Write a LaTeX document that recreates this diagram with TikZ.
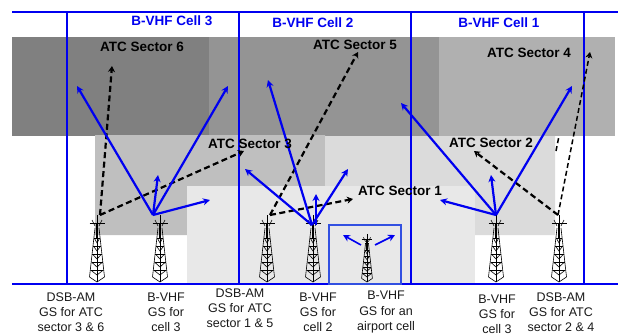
\documentclass[tikz,border=0pt]{standalone}
\usepackage{fontspec}
\setmainfont{Liberation Sans}
\usetikzlibrary{arrows.meta}
\definecolor{cellblue}{RGB}{0,0,240}
\definecolor{boxblue}{RGB}{50,80,225}
\tikzset{
	sectorlabel/.style={font=\fontsize{13.5}{15}\selectfont\bfseries, text=black},
	celllabel/.style={font=\fontsize{13.5}{15}\selectfont\bfseries, text=cellblue},
	gslabel/.style={font=\fontsize{12.5}{15.2}\selectfont, align=center, text=black!90},
	cellline/.style={draw=cellblue, line width=1.6pt},
	beam/.style={draw=cellblue, line width=2.2pt, -{Stealth[length=7pt,width=7pt]}},
	atclink/.style={draw=black, line width=2.2pt, dash pattern=on 6pt off 3.5pt, -{Stealth[length=6pt,width=7pt]}},
}
% (x,y) is the foot of the mast, last argument the size
\def\gstower(#1,#2)(#3){
	\begin{scope}[shift={(#1,#2)}, x=#3pt, y=-#3pt, line width=0.6pt]
		\draw (-7.5,-5) -- (-2,-54) (7.5,-5) -- (2,-54) (-7.5,-5) -- (0,0) -- (7.5,-5);
		\draw (0,-54) -- (0,0);
		\foreach \h/\w in {-12/6.4,-20/5.5,-28/4.6,-36/3.6,-44/2.7}{
			\draw (-\w,\h) -- (0,\h+5) -- (\w,\h);
			\draw (-\w,\h) -- (\w,\h);
		}
		\draw[line width=2pt] (0,-44) -- (0,-58);
		\draw (0,-67) -- (0,-55);
		\draw (-7.5,-59) -- (7.5,-59);
		\draw (-5,-62) -- (-2,-56) (5,-62) -- (2,-56);
	\end{scope}
}

\begin{document}
\begin{tikzpicture}[x=1pt, y=-1pt]
	\useasboundingbox (0, 0) rectangle (618, 335);
	
	%%%%% sectors %%%%%
	\fill[color=black!50] (12, 37) rectangle (209, 136);
	\fill[color=black!42] (209, 37) rectangle (439, 136);
	\fill[color=black!31] (439, 37) rectangle (615, 136);
	\fill[color=black!25] (95, 135) -- (325, 135) -- (325, 186) -- (187, 186) -- (187, 235) -- (95, 235) -- cycle;
	\fill[color=black!14] (325, 136) -- (555, 136) -- (555, 235) -- (475, 235) -- (475, 186) -- (325, 186) -- cycle;
	\fill[color=black!9] (187, 186) rectangle (475, 284);
	
	%%%%% cells %%%%%
	\draw[cellline] (12, 12) -- (620, 12);
	\draw[cellline] (12, 284) -- (618, 284);
	\foreach \cellx in {67, 239, 411}{
		\draw[cellline] (\cellx, 12) -- (\cellx, 284);
	}
	\draw[cellline, line width=1.1pt] (584, 12) -- (584, 284);
	\draw[draw=boxblue, line width=1.4pt] (329, 225) rectangle (401, 284);
	
	%%%%% towers %%%%%
	\gstower(97, 282)(1)
	\gstower(160, 282)(1)
	\gstower(267, 282)(1)
	\gstower(313, 282)(1)
	\gstower(367, 282)(0.72)
	\gstower(496, 282)(1)
	\gstower(559, 282)(1)
	
	\coordinate (gs36) at (100, 215);
	\coordinate (gs15) at (270, 215);
	\coordinate (gs24) at (558, 215);
	\coordinate (cell3) at (153, 215);
	\coordinate (cell2) at (312, 225);
	\coordinate (cell1) at (496, 215);
	
	%%%%% links %%%%%
	\draw[atclink] (gs36) -- (112, 66);
	\draw[atclink] (gs36) -- (244, 151);
	\draw[atclink] (gs15) -- (358, 52);
	\draw[atclink] (gs15) -- (353, 199);
	\draw[atclink] (gs24) -- (474, 151);
	\draw[atclink, line width=1.5pt, dash pattern=on 5pt off 3pt] (gs24) -- (590, 52);
	\draw[draw=black, line width=1.5pt, dash pattern=on 5pt off 3pt] (556, 151) -- (559, 136);
	
	\draw[beam] (cell3) -- (77, 86);
	\draw[beam] (cell3) -- (228, 86);
	\draw[beam] (cell3) -- (158, 175);
	\draw[beam] (cell3) -- (210, 200);
	\draw[beam] (cell2) -- (268, 80);
	\draw[beam] (cell2) -- (245, 169);
	\draw[beam] (316, 225) -- (316, 194);
	\draw[beam] (cell2) -- (348, 169);
	\draw[beam] (cell1) -- (401, 103);
	\draw[beam] (cell1) -- (572, 86);
	\draw[beam] (cell1) -- (491, 175);
	\draw[beam] (cell1) -- (440, 200);
	\draw[beam, line width=1.6pt] (361, 245) -- (343, 235);
	\draw[beam, line width=1.6pt] (375, 245) -- (395, 235);
	
	%%%%% labels %%%%%
	\node[celllabel] (cellc) at (172, 21) {B-VHF Cell 3};
	\node[celllabel] (cellb) at (313, 23) {B-VHF Cell 2};
	\node[celllabel] (cella) at (499, 23) {B-VHF Cell 1};
	
	\node[sectorlabel] (sectorf) at (142, 47) {ATC Sector 6};
	\node[sectorlabel] (sectore) at (355, 45) {ATC Sector 5};
	\node[sectorlabel] (sectord) at (529, 53) {ATC Sector 4};
	\node[sectorlabel] (sectorc) at (250, 144) {ATC Sector 3};
	\node[sectorlabel] (sectorb) at (491, 143) {ATC Sector 2};
	\node[sectorlabel] (sectora) at (400, 191) {ATC Sector 1};
	
	\node[gslabel] (gslabela) at (71, 312) {DSB-AM\\GS for ATC\\sector 3 \& 6};
	\node[gslabel] (gslabelb) at (166, 312) {B-VHF\\GS for\\cell 3};
	\node[gslabel] (gslabelc) at (240, 308) {DSB-AM\\GS for ATC\\sector 1 \& 5};
	\node[gslabel] (gslabeld) at (318, 312) {B-VHF\\GS for\\cell 2};
	\node[gslabel] (gslabele) at (386, 312) {B-VHF\\GS for an\\airport cell};
	\node[gslabel] (gslabelf) at (497, 314) {B-VHF\\GS for\\cell 3};
	\node[gslabel] (gslabelg) at (561, 312) {DSB-AM\\GS for ATC\\sector 2 \& 4};
\end{tikzpicture}
\end{document}
